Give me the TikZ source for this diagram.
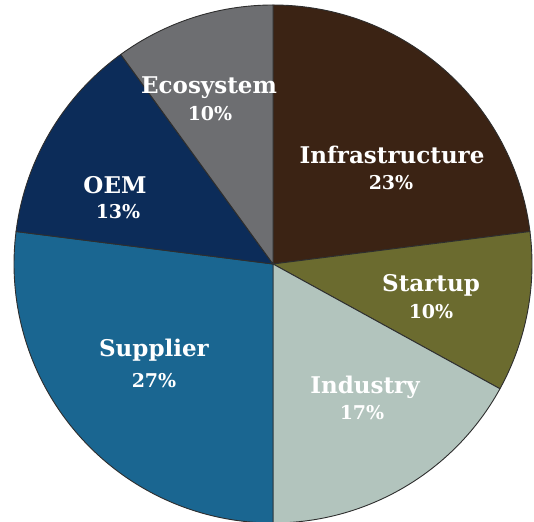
\documentclass[tikz,border=0pt]{standalone}
\usepackage{fontspec}
\setmainfont{DejaVu Serif}
\definecolor{cInfra}{HTML}{3B2314}
\definecolor{cStart}{HTML}{6B6B2F}
\definecolor{cInd}{HTML}{B2C4BD}
\definecolor{cSup}{HTML}{1A6691}
\definecolor{cOEM}{HTML}{0C2C59}
\definecolor{cEco}{HTML}{6D6E71}
\definecolor{cSep}{HTML}{2E2E2E}
\tikzset{
  slice/.style={draw=cSep, line width=0.9pt, line join=round},
  lbl/.style={text=white, align=center, inner sep=0pt, font=\bfseries\fontsize{23}{27}\selectfont},
  pct/.style={text=white, align=center, inner sep=0pt, font=\bfseries\fontsize{19}{22}\selectfont}
}
\newcommand{\pieslice}[3]{%
  \filldraw[slice, fill=#1] (ctr) -- ++(#2:259) arc[start angle=#2, end angle=#3, radius=259] -- cycle;}
\begin{document}
\begin{tikzpicture}[x=1pt,y=1pt]
\useasboundingbox (0,0) rectangle (534,521);
\clip (0,0) rectangle (534,521);
\coordinate (ctr) at (273,257);
\pieslice{cInfra}{90}{7.2}
\pieslice{cStart}{7.2}{-28.8}
\pieslice{cInd}{-28.8}{-90}
\pieslice{cSup}{-90}{-187.2}
\pieslice{cOEM}{-187.2}{-234}
\pieslice{cEco}{-234}{-270}
% labels (image y -> 521 - y)
\node[lbl] (infraL) at (392,366) {Infrastructure};
\node[pct] (infraP) at (391,338) {23\%};
\node[lbl] (startL) at (431,236) {Startup};
\node[pct] (startP) at (431,209) {10\%};
\node[lbl] (indL) at (365,134) {Industry};
\node[pct] (indP) at (362,108) {17\%};
\node[lbl] (supL) at (154,171) {Supplier};
\node[pct] (supP) at (154,140) {27\%};
\node[lbl] (oemL) at (115,336) {OEM};
\node[pct] (oemP) at (118,309) {13\%};
\node[lbl] (ecoL) at (209,433) {Ecosystem};
\node[pct] (ecoP) at (210,407) {10\%};
\end{tikzpicture}
\end{document}
